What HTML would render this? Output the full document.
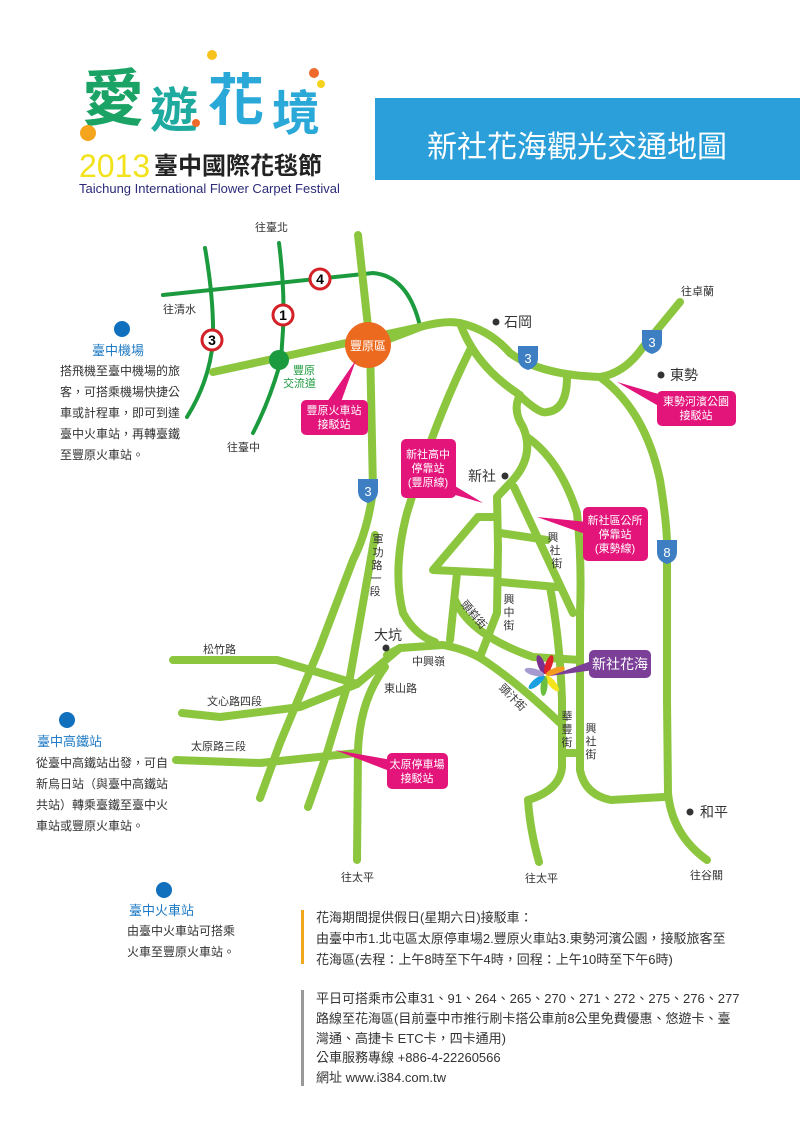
<!DOCTYPE html>
<html><head><meta charset="utf-8"><style>
body{margin:0;background:#fff;}
svg{display:block;}
text{font-family:"Liberation Sans","Noto Sans CJK TC",sans-serif;}
</style></head><body>
<svg width="800" height="1131" viewBox="0 0 800 1131" xmlns="http://www.w3.org/2000/svg">
<g font-family="'Noto Sans CJK TC',sans-serif" font-weight="bold">
<text x="82" y="120" font-size="62" fill="#1aa364">愛</text>
<text x="150" y="127" font-size="48" fill="#1faaa0">遊</text>
<text x="208" y="120" font-size="56" fill="#2aa8d8">花</text>
<text x="272" y="130" font-size="48" fill="#2aa8d8">境</text>
</g>
<circle cx="88" cy="133" r="8" fill="#f4a51d"/>
<circle cx="212" cy="55" r="5" fill="#f6c21b"/>
<circle cx="314" cy="73" r="5" fill="#ef6a2a"/>
<circle cx="321" cy="84" r="4" fill="#f6d21b"/>
<circle cx="196" cy="123" r="4" fill="#ef6a2a"/>
<text x="79" y="177" font-size="32" fill="#f2e21a" font-family="'Liberation Sans',sans-serif">2013</text>
<text x="154" y="174" font-size="24" font-weight="bold" fill="#222" font-family="'Noto Serif CJK SC',serif">臺中國際花毯節</text>
<text x="79" y="193" font-size="13" fill="#2b2b7a">Taichung International Flower Carpet Festival</text>
<rect x="375" y="98" width="425" height="82" fill="#2a9fd9"/>
<text x="577" y="157" font-size="30" fill="#fff" text-anchor="middle">新社花海觀光交通地圖</text>

<g fill="none" stroke="#1c9a3e" stroke-width="4" stroke-linecap="round">
<path d="M163 295 L373 273 Q408 276 420 326"/>
<path d="M205 248 Q214 300 213 340 Q210 380 187 417"/>
<path d="M279 243 Q285 290 283 330 L281 360 Q270 400 253 433"/>
</g>
<g fill="none" stroke="#8cc63f" stroke-width="8" stroke-linecap="round" stroke-linejoin="round">
<path d="M213 372 L420 327"/>
<path d="M358 235 L370 345 L373 490 Q368 530 353 560 L320 647 L280 743 L260 798"/>
<path d="M375 535 L350 677 L327 753 L308 807"/>
<path d="M372 345 Q395 337 420 327 Q445 320 460 323 Q490 330 510 353 Q540 375 600 377 Q625 373 643 347 L680 302"/>
<path d="M460 323 Q475 365 517 393 Q540 415 547 412 Q567 410 567 377"/>
<path d="M520 395 Q512 410 523 427 Q535 455 513 480 L497 497 L498 547 L497 613 L480 657"/>
<path d="M470 350 Q435 420 407 513 Q392 570 403 613 Q415 635 435 642"/>
<path d="M527 437 Q560 460 577 513 Q582 560 580 613 L580 770 Q585 795 611 800 L664 797"/>
<path d="M600 377 Q645 410 660 480 Q668 530 667 553 L667 700 L668 793 Q672 835 707 860"/>
<path d="M514 487 L573 613"/>
<path d="M478 517 L433 570 L497 573 M478 517 L497 517"/>
<path d="M500 533 L547 540 M500 582 L557 587"/>
<path d="M457 573 L450 640"/>
<path d="M455 600 Q470 635 533 657 L580 660"/>
<path d="M550 587 Q560 640 562 700 L562 723 L562 767 Q560 790 528 800 Q530 830 539 862"/>
<path d="M562 753 L580 753"/>
<path d="M387 655 L400 648 L443 645 Q470 650 488 663 Q520 685 560 723"/>
<path d="M400 648 Q380 665 357 684 L300 707 L220 717 L182 713"/>
<path d="M173 660 L277 660 L357 684"/>
<path d="M385 667 Q360 700 358 750 L357 860"/>
<path d="M176 760 L260 763 L357 753"/>
</g>
<g font-size="14" font-weight="bold" text-anchor="middle">
<circle cx="320" cy="279" r="10" fill="#fff" stroke="#d42027" stroke-width="3"/><text x="320" y="284">4</text>
<circle cx="283" cy="315" r="10" fill="#fff" stroke="#d42027" stroke-width="3"/><text x="283" y="320">1</text>
<circle cx="212" cy="340" r="10" fill="#fff" stroke="#d42027" stroke-width="3"/><text x="212" y="345">3</text>
</g>
<circle cx="279" cy="360" r="10" fill="#1c9a3e"/>
<text x="293" y="374" font-size="11" fill="#1c9a3e">豐原</text>
<text x="283" y="387" font-size="11" fill="#1c9a3e">交流道</text>
<circle cx="368" cy="345" r="23" fill="#ec6a1f"/>
<text x="368" y="350" font-size="12" fill="#fff" text-anchor="middle">豐原區</text>
<g font-size="13" fill="#fff" text-anchor="middle">
<path d="M358 479 h20 v12 q0 9 -10 12 q-10 -3 -10 -12z" fill="#3e7fc4"/><text x="368" y="496">3</text>
<path d="M518 346 h20 v12 q0 9 -10 12 q-10 -3 -10 -12z" fill="#3e7fc4"/><text x="528" y="363">3</text>
<path d="M642 330 h20 v12 q0 9 -10 12 q-10 -3 -10 -12z" fill="#3e7fc4"/><text x="652" y="347">3</text>
<path d="M657 540 h20 v12 q0 9 -10 12 q-10 -3 -10 -12z" fill="#3e7fc4"/><text x="667" y="557">8</text>
</g>
<g fill="#333"><circle cx="496" cy="322" r="3.5"/><circle cx="661" cy="375" r="3.5"/><circle cx="505" cy="476" r="3.5"/><circle cx="386" cy="648" r="3.5"/><circle cx="690" cy="812" r="3.5"/></g>
<g font-size="14" fill="#333">
<text x="504" y="327">石岡</text><text x="670" y="380">東勢</text><text x="468" y="481">新社</text><text x="374" y="640">大坑</text><text x="700" y="817">和平</text>
</g>
<g font-size="11" fill="#333">
<text x="255" y="231">往臺北</text><text x="163" y="313">往清水</text><text x="681" y="295">往卓蘭</text><text x="227" y="451">往臺中</text>
<text x="203" y="653">松竹路</text><text x="207" y="705">文心路四段</text><text x="191" y="750">太原路三段</text>
<text x="412" y="665">中興嶺</text><text x="384" y="692">東山路</text>
<text x="341" y="881">往太平</text><text x="525" y="882">往太平</text><text x="690" y="879">往谷關</text>
</g>
<g font-size="11" fill="#333" text-anchor="middle">
<text x="378" y="543">軍</text><text x="378" y="556">功</text><text x="377" y="569">路</text><text x="376" y="582">一</text><text x="375" y="595">段</text>
<text x="553" y="541">興</text><text x="555" y="554">社</text><text x="557" y="567">街</text>
<text x="509" y="603">興</text><text x="509" y="616">中</text><text x="509" y="629">街</text>
<text x="567" y="720">華</text><text x="567" y="733">豐</text><text x="567" y="746">街</text>
<text x="591" y="732">興</text><text x="591" y="745">社</text><text x="591" y="758">街</text>
<text x="471" y="617" transform="rotate(50 471 617)">頭嵙街</text>
<text x="510" y="700" transform="rotate(45 510 700)">頭汴街</text>
</g>
<g transform="translate(545,675)">
<ellipse cx="0" cy="-11" rx="3.5" ry="10" fill="#7b2f8f" transform="rotate(-20)"/>
<ellipse cx="0" cy="-11" rx="3.5" ry="10" fill="#e0202a" transform="rotate(20)"/>
<ellipse cx="0" cy="-11" rx="3.5" ry="10" fill="#f39c1f" transform="rotate(70)"/>
<ellipse cx="0" cy="-11" rx="3.5" ry="10" fill="#f5e41b" transform="rotate(140)"/>
<ellipse cx="0" cy="-11" rx="3.5" ry="10" fill="#6cbf3e" transform="rotate(185)"/>
<ellipse cx="0" cy="-11" rx="3.5" ry="10" fill="#1aa0e0" transform="rotate(230)"/>
<ellipse cx="0" cy="-11" rx="3.5" ry="10" fill="#a79ad0" transform="rotate(285)"/>
</g>
<g fill="#e3157b">
<polygon points="356,360 327,402 341,402"/><rect x="301" y="400" width="67" height="35" rx="5"/>
<polygon points="483,503 445,480 445,492"/><rect x="401" y="439" width="55" height="59" rx="5"/>
<polygon points="617,382 662,395 662,408"/><rect x="657" y="391" width="79" height="35" rx="5"/>
<polygon points="537,517 588,522 588,535"/><rect x="583" y="507" width="65" height="54" rx="5"/>
<polygon points="335,750 392,760 392,772"/><rect x="387" y="753" width="61" height="36" rx="5"/>
</g>
<polygon points="550,676 594,660 594,670" fill="#7b3f98"/>
<rect x="589" y="650" width="62" height="28" rx="5" fill="#7b3f98"/>
<g font-size="11" fill="#fff" text-anchor="middle">
<text x="334" y="414">豐原火車站</text><text x="334" y="428">接駁站</text>
<text x="428" y="458">新社高中</text><text x="428" y="472">停靠站</text><text x="428" y="486">(豐原線)</text>
<text x="696" y="405">東勢河濱公園</text><text x="696" y="419">接駁站</text>
<text x="615" y="524">新社區公所</text><text x="615" y="538">停靠站</text><text x="615" y="552">(東勢線)</text>
<text x="417" y="768">太原停車場</text><text x="417" y="782">接駁站</text>
<text x="620" y="669" font-size="14">新社花海</text>
</g>
<g font-size="12" fill="#333">
<circle cx="122" cy="329" r="8" fill="#1170bd"/>
<text x="92" y="355" font-size="13" fill="#1e7ac4">臺中機場</text>
<text x="60" y="375">搭飛機至臺中機場的旅</text><text x="60" y="396">客，可搭乘機場快捷公</text>
<text x="60" y="417">車或計程車，即可到達</text><text x="60" y="438">臺中火車站，再轉臺鐵</text>
<text x="60" y="459">至豐原火車站。</text>
<circle cx="67" cy="720" r="8" fill="#1170bd"/>
<text x="37" y="746" font-size="13" fill="#1e7ac4">臺中高鐵站</text>
<text x="36" y="767">從臺中高鐵站出發，可自</text><text x="36" y="788">新烏日站（與臺中高鐵站</text>
<text x="36" y="809">共站）轉乘臺鐵至臺中火</text><text x="36" y="830">車站或豐原火車站。</text>
<circle cx="164" cy="890" r="8" fill="#1170bd"/>
<text x="129" y="915" font-size="13" fill="#1e7ac4">臺中火車站</text>
<text x="127" y="935">由臺中火車站可搭乘</text><text x="127" y="956">火車至豐原火車站。</text>
</g>
<rect x="301" y="910" width="3" height="54" fill="#f0a61d"/>
<rect x="301" y="990" width="3" height="96" fill="#999"/>
<g font-size="13" fill="#333">
<text x="316" y="922">花海期間提供假日(星期六日)接駁車：</text>
<text x="316" y="943">由臺中市1.北屯區太原停車場2.豐原火車站3.東勢河濱公園，接駁旅客至</text>
<text x="316" y="964">花海區(去程：上午8時至下午4時，回程：上午10時至下午6時)</text>
<text x="316" y="1003">平日可搭乘市公車31、91、264、265、270、271、272、275、276、277</text>
<text x="316" y="1023">路線至花海區(目前臺中市推行刷卡搭公車前8公里免費優惠、悠遊卡、臺</text>
<text x="316" y="1043">灣通、高捷卡 ETC卡，四卡通用)</text>
<text x="316" y="1062">公車服務專線  +886-4-22260566</text>
<text x="316" y="1082">網址 www.i384.com.tw</text>
</g>
</svg>
</body></html>
